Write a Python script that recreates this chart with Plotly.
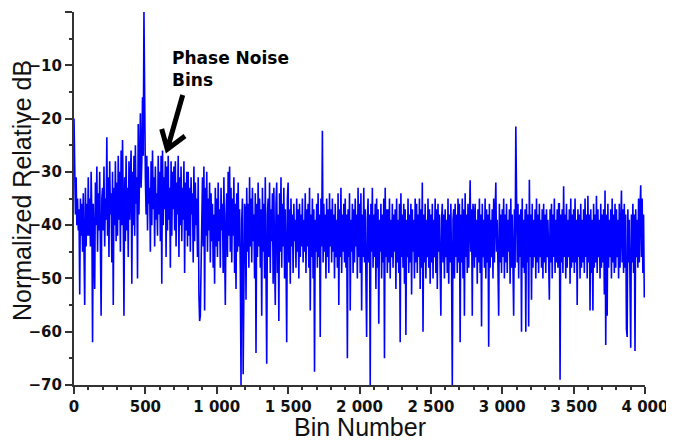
import plotly.graph_objects as go

# Normalized relative level (dB), one value every 5 bins
# bins 0 - 995
db_part1 = [
    -20, -33, -38, -31, -40, -35, -41, -37, -53, -35, -42, -36, -45, -34, -41, -55, -33, -44, -36, -42,
    -31, -42, -35, -44, -30, -38, -62, -36, -43, -52, -32, -40, -29, -45, -34, -41, -30, -43, -57, -35,
    -33, -41, -29, -44, -35, -39, -23.5, -42, -31, -46, -28, -38, -34, -47, -30, -55, -33, -40, -28, -43,
    -32, -42, -27, -39, -30, -45, -26, -40, -24, -38, -57, -31, -43, -27, -41, -33, -46, -28, -39, -31,
    -26, -51, -30, -40, -27, -42, -25, -36, -31, -50, -21, -38, -26, -19, -33, -28, -16, -27, 0, -30,
    -31, -38, -27, -41, -29, -36, -33, -45, -28, -40, -26, -37, -31, -44, -29, -39, -34, -42, -27, -38,
    -30, -43, -27, -51, -26, -40, -31, -37, -28, -46, -29, -41, -27, -39, -33, -48, -28, -42, -30, -37,
    -29, -41, -28, -44, -32, -38, -27, -46, -31, -40, -29, -43, -33, -39, -28, -49, -32, -41, -30, -44,
    -30, -42, -33, -45, -31, -38, -34, -47, -29, -43, -32, -40, -35, -46, -31, -53, -58, -57, -47, -36,
    -31, -44, -29, -56, -33, -42, -30, -45, -35, -41, -32, -47, -34, -43, -36, -48, -38, -51, -33, -44,
]
# bins 1000 - 1995
db_part2 = [
    -35, -46, -32, -43, -37, -48, -33, -41, -36, -49, -31, -44, -55, -38, -34, -46, -30, -42, -29, -45,
    -33, -47, -35, -42, -31, -49, -36, -52, -34, -45, -32, -44, -37, -48, -70, -39, -35, -68, -42, -36,
    -37, -54, -33, -45, -36, -48, -31, -44, -35, -47, -33, -43, -38, -50, -34, -64, -36, -46, -32, -44,
    -35, -48, -37, -57, -33, -45, -36, -50, -31, -47, -66, -38, -35, -46, -32, -49, -37, -43, -34, -51,
    -33, -46, -55, -36, -32, -49, -38, -58, -34, -45, -31, -48, -36, -44, -33, -50, -37, -46, -62, -35,
    -32, -47, -37, -51, -35, -44, -38, -49, -36, -43, -39, -48, -35, -45, -37, -50, -36, -46, -38, -44,
    -35, -47, -39, -45, -34, -49, -37, -44, -36, -48, -33, -56, -38, -46, -35, -50, -37, -67.5, -39, -45,
    -36, -48, -34, -46, -38, -61, -35, -44, -22.3, -47, -36, -45, -38, -50, -35, -46, -37, -49, -34, -44,
    -37, -47, -35, -45, -38, -50, -36, -46, -39, -48, -34, -55, -37, -46, -33, -49, -38, -45, -36, -47,
    -35, -48, -38, -65, -37, -46, -34, -56, -39, -45, -36, -49, -37, -47, -35, -44, -38, -50, -33, -46,
]
# bins 2000 - 2995
db_part3 = [
    -36, -49, -34, -56, -38, -46, -33, -47, -37, -50, -61, -39, -35, -47, -38, -70, -36, -45, -33, -48,
    -38, -46, -36, -52, -35, -48, -37, -58.5, -39, -45, -36, -50, -38, -47, -35, -65, -33, -46, -37, -49,
    -37, -47, -35, -50, -39, -46, -36, -48, -38, -45, -37, -52, -35, -47, -39, -49, -36, -62, -34, -46,
    -38, -48, -36, -51, -37, -60.6, -39, -46, -35, -49, -38, -47, -36, -53, -37, -45, -39, -50, -35, -47,
    -36, -49, -38, -46, -35, -52, -37, -48, -32, -60, -38, -47, -36, -50, -39, -46, -35, -48, -37, -51,
    -38, -47, -36, -50, -39, -46, -35, -49, -37, -52, -36, -45, -38, -48, -57, -39, -36, -47, -38, -50,
    -37, -46, -39, -49, -35, -51, -38, -47, -36, -48, -70, -39, -37, -50, -36, -46, -38, -49, -35, -47,
    -36, -62, -38, -47, -35, -50, -37, -57, -34, -46, -38, -49, -36, -48, -39, -31.6, -45, -37, -57, -36,
    -38, -48, -36, -46, -39, -51, -37, -47, -35, -49, -38, -59, -36, -46, -39, -48, -35, -50, -37, -47,
    -38, -62.8, -36, -48, -39, -46, -37, -50, -35, -47, -38, -32, -45, -39, -48, -57, -36, -47, -38, -49,
]
# bins 3000 - 3995
db_part4 = [
    -37, -46, -35, -50, -38, -47, -36, -49, -39, -45, -37, -51, -35, -48, -38, -46, -57, -37, -48, -21.5,
    -39, -47, -36, -50, -38, -46, -37, -60, -35, -48, -39, -49, -37, -60, -36, -47, -38, -59, -31.5, -46,
    -38, -54, -36, -48, -39, -46, -37, -50, -35, -47, -38, -49, -36, -46, -39, -48, -37, -50, -36, -47,
    -38, -49, -37, -46, -39, -48, -54, -37, -47, -36, -50, -38, -46, -35, -49, -39, -47, -37, -48, -36,
    -36, -69, -38, -47, -37, -49, -32.7, -46, -38, -50, -36, -48, -39, -46, -37, -51, -35, -48, -38, -47,
    -37, -49, -35, -47, -39, -55, -37, -46, -38, -50, -36, -48, -39, -47, -37, -49, -35, -46, -38, -50,
    -34.5, -47, -38, -56, -37, -49, -39, -56, -36, -48, -38, -47, -34.5, -49, -37, -46, -39, -50, -36, -48,
    -38, -47, -37, -53, -33.5, -62.5, -38, -57, -36, -48, -39, -46, -37, -50, -35, -47, -38, -49, -36, -48,
    -37, -46, -39, -50, -36, -48, -38, -33.5, -47, -37, -49, -36, -48, -38, -59.5, -61, -37, -47, -39, -50,
    -63, -38, -47, -36, -49, -38, -63.6, -37, -46, -39, -48, -35, -47, -37, -32.5, -46, -35, -49, -38, -53.6,
]

level_db = db_part1 + db_part2 + db_part3 + db_part4
bin_step = 5
bins = [i * bin_step for i in range(len(level_db))]

x_title = "Bin Number"
y_title = "Normalized Relative dB"
note_text = "Phase Noise<br>Bins"

fig = go.Figure()
fig.add_trace(go.Scatter(x=bins, y=level_db, mode="lines",
                         line=dict(color="#0000ff", width=1.6), hoverinfo="skip"))

axis_style = dict(showline=True, linecolor="#333333", linewidth=2, mirror=False,
                  ticks="outside", ticklen=7, tickwidth=1.5, tickcolor="#333333",
                  showgrid=False, zeroline=False, automargin=False,
                  tickfont=dict(family="DejaVu Sans", size=15, color="#111111", weight="bold"))

fig.update_xaxes(range=[0, 4000], dtick=500, tick0=0, separatethousands=True,
                 minor=dict(dtick=100, ticks="outside", ticklen=3, tickcolor="#333333", showgrid=False),
                 **axis_style)
fig.update_yaxes(range=[-70, 0], dtick=10, tick0=0,
                 minor=dict(dtick=5, ticks="outside", ticklen=3, tickcolor="#333333", showgrid=False),
                 **axis_style)

title_font = dict(family="Liberation Sans", size=25, color="#111111")
fig.add_annotation(text=x_title, xref="paper", yref="paper", x=0.5, y=0, yshift=-42,
                   xanchor="center", yanchor="middle", showarrow=False, font=title_font)
fig.add_annotation(text=y_title, xref="paper", yref="paper", x=0, y=0.52, xshift=-52,
                   xanchor="center", yanchor="middle", textangle=-90, showarrow=False, font=title_font)

fig.add_annotation(text=note_text, xref="paper", yref="paper", x=0.168, y=0.91,
                   xanchor="left", yanchor="top", align="left", showarrow=False,
                   font=dict(family="DejaVu Sans", size=17, color="#000000", weight="bold"))
fig.add_shape(type="path", xref="paper", yref="paper",
              path="M 0.1904,0.7775 L 0.1634,0.6319 M 0.1536,0.6863 L 0.1634,0.6319 L 0.1944,0.6676",
              line=dict(color="#000000", width=5))

# the page body adds an 8 px offset, so the figure is sized to end at the window edge
fig.update_layout(width=666, height=433, margin=dict(l=66, r=29, t=4, b=56),
                  paper_bgcolor="white", plot_bgcolor="white", showlegend=False,
                  separators=". ")
fig.write_html("out.html")
